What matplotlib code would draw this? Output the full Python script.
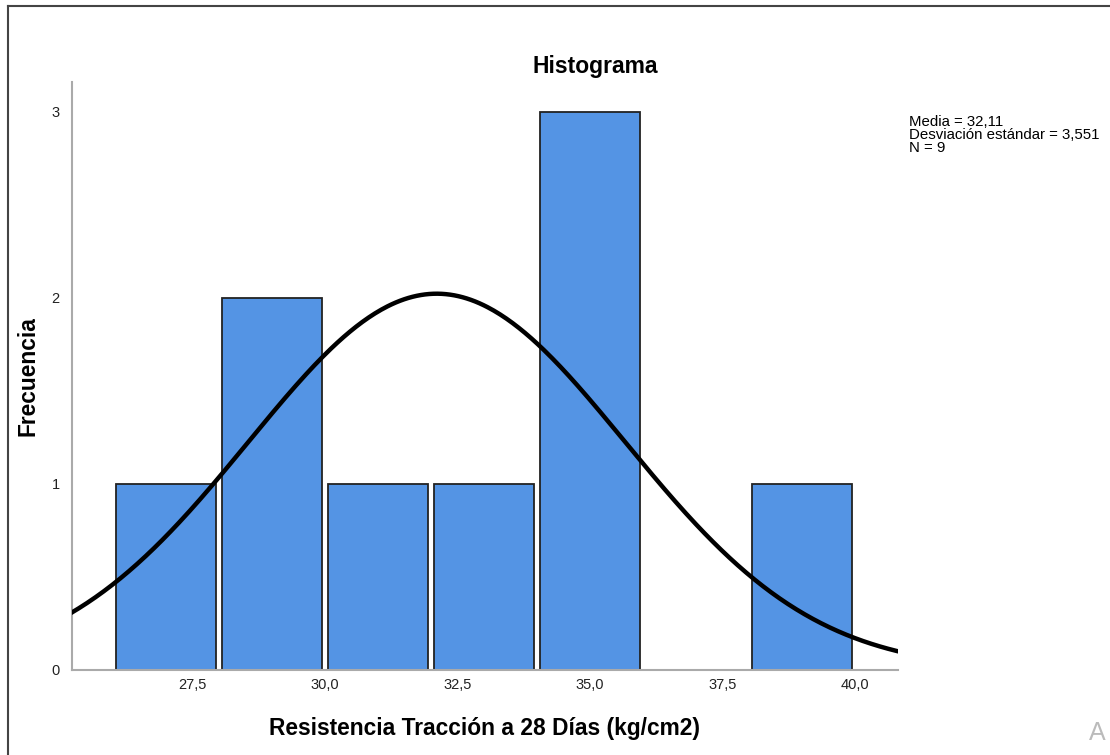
import numpy as np
import matplotlib
matplotlib.use('Agg')
import matplotlib.pyplot as plt
from matplotlib.lines import Line2D

plt.rcParams['font.family'] = ['Liberation Sans', 'DejaVu Sans']

# Histogram bins (kg/cm2) and frequencies
bin_edges = [26, 28, 30, 32, 34, 36, 38, 40]
counts = [1, 2, 1, 1, 3, 0, 1]

# Summary statistics shown by SPSS
media = 32.11
desv = 3.551
n = 9

tick_vals = [27.5, 30.0, 32.5, 35.0, 37.5, 40.0]
tick_labels = ['27,5', '30,0', '32,5', '35,0', '37,5', '40,0']

fig = plt.figure(figsize=(11.1, 7.55), dpi=100)
ax = fig.add_axes([0.0649, 0.1126, 0.744, 0.7788])

width = bin_edges[1] - bin_edges[0]
lefts = np.array(bin_edges[:-1])
ax.bar(lefts + width / 2, counts, width=width * 0.95, color='#5494E4',
       edgecolor='#222222', linewidth=1.3, zorder=2)

# Normal curve scaled to frequencies
xs = np.linspace(25.2, 40.9, 400)
ys = n * width / (desv * np.sqrt(2 * np.pi)) * np.exp(-0.5 * ((xs - media) / desv) ** 2)
ax.plot(xs, ys, color='black', linewidth=3.2, zorder=3)

ax.set_xlim(25.23, 40.81)
ax.set_ylim(0, 3.16)
ax.set_xticks(tick_vals)
ax.set_xticklabels(tick_labels)
ax.set_yticks([0, 1, 2, 3])
ax.tick_params(length=0, labelsize=10.5, colors='#222222')
ax.tick_params(axis='x', pad=6)
ax.tick_params(axis='y', pad=9)
for side in ['top', 'right']:
    ax.spines[side].set_visible(False)
for side in ['left', 'bottom']:
    ax.spines[side].set_color('#aaaaaa')
    ax.spines[side].set_linewidth(1.5)

ax.set_xlabel('Resistencia Tracción a 28 Días (kg/cm2)', fontsize=16.4, fontweight='bold', labelpad=18)
ax.set_ylabel('Frecuencia', fontsize=16.4, fontweight='bold')
ax.yaxis.set_label_coords(-0.040, 0.5)

fig.text(595 / 1110, 1 - 66 / 755, 'Histograma', fontsize=16.5, fontweight='bold',
         ha='center', va='center')
fig.text(909 / 1110, 1 - 115 / 755,
         'Media = 32,11\nDesviación estándar = 3,551\nN = 9',
         fontsize=10.8, ha='left', va='top', linespacing=0.9)
fig.text(1089 / 1110, 1 - 733 / 755, 'A', fontsize=18, color='#bbbbbb',
         ha='left', va='center')

# outer frame
fig.add_artist(Line2D([8 / 1110, 1], [1 - 6 / 755, 1 - 6 / 755], color='#444444', linewidth=1.5))
fig.add_artist(Line2D([8 / 1110, 8 / 1110], [0, 1 - 6 / 755], color='#444444', linewidth=1.5))

plt.savefig('out.png', dpi=100)
